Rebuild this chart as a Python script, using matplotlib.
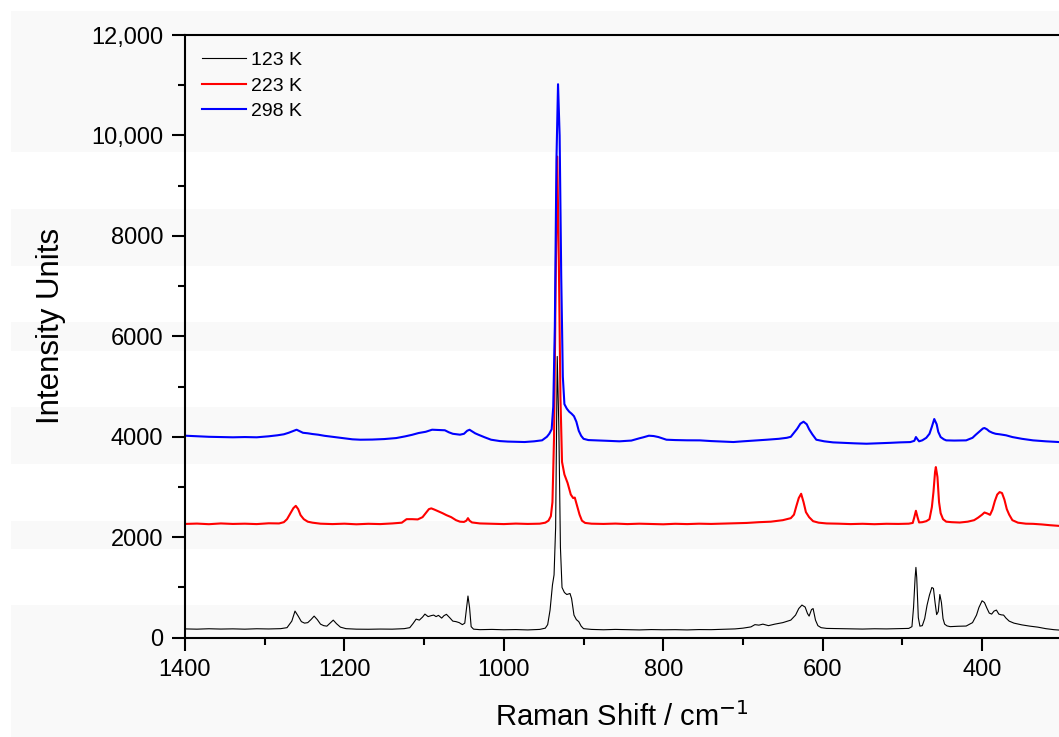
import matplotlib
matplotlib.use("Agg")
import matplotlib.pyplot as plt
from matplotlib.patches import Rectangle
from matplotlib.ticker import MultipleLocator, FuncFormatter

plt.rcParams['font.family'] = ['Liberation Sans', 'DejaVu Sans']

# Raman spectra at three temperatures (wavenumber / cm-1, intensity)
shift_123 = [1400, 1385, 1370, 1355, 1340, 1325, 1310, 1295, 1280, 1272, 1266, 1262, 1258, 1254,
             1250, 1246, 1242, 1238, 1234, 1230, 1226, 1222, 1218, 1214, 1210, 1205, 1198, 1185,
             1170, 1155, 1140, 1125, 1118, 1114, 1110, 1106, 1102, 1099, 1095, 1091, 1088, 1085,
             1082, 1078, 1075, 1072, 1068, 1064, 1060, 1056, 1052, 1049, 1046, 1045, 1043, 1041,
             1038, 1030, 1015, 1000, 985, 970, 955, 948, 945, 942, 939, 937, 935, 933, 931, 929,
             927, 924, 921, 917, 915, 912, 909, 906, 903, 900, 890, 875, 860, 845, 830, 815, 800,
             785, 770, 755, 740, 725, 710, 700, 690, 685, 680, 675, 668, 660, 650, 640, 634, 630,
             626, 622, 619, 617, 614, 612, 609, 606, 602, 595, 580, 565, 550, 535, 520, 505, 492,
             488, 486, 484, 483, 482, 480, 478, 475, 472, 469, 466, 463, 461, 459, 457, 455, 453,
             451, 449, 447, 444, 440, 430, 420, 412, 407, 404, 400, 397, 394, 391, 388, 385, 382,
             379, 376, 373, 370, 366, 360, 350, 340, 330, 320, 310, 304]
int_123 = [175, 170, 178, 172, 176, 170, 178, 174, 180, 200, 330, 530, 430, 320,
           290, 300, 360, 430, 360, 270, 240, 230, 290, 350, 280, 210, 180, 170,
           168, 172, 170, 180, 200, 280, 370, 350, 410, 470, 420, 440, 450, 420,
           445, 390, 440, 465, 400, 330, 320, 300, 260, 290, 700, 830, 600, 220,
           170, 160, 165, 158, 162, 155, 165, 190, 260, 550, 1050, 1250, 2200, 5600, 4200, 1800,
           1000, 900, 860, 880, 780, 450, 360, 320, 230, 180, 165, 158, 165, 160, 155, 162, 158,
           160, 155, 162, 160, 168, 175, 190, 215, 260, 250, 270, 240, 270, 300, 350, 450, 580,
           650, 610, 480, 430, 560, 580, 350, 240, 200, 185, 180, 175, 172, 178, 175, 180, 185,
           220, 600, 1200, 1400, 1200, 400, 230, 240, 380, 650, 850, 1000, 980, 700, 460, 520, 860,
           700, 380, 270, 235, 220, 228, 232, 300, 450, 600, 735, 700, 590, 490, 470, 530, 550,
           470, 455, 450, 390, 330, 290, 255, 230, 210, 180, 160, 153]

shift_223 = [1400, 1385, 1370, 1355, 1340, 1325, 1310, 1295, 1282, 1276, 1272, 1268, 1264, 1261,
             1258, 1255, 1251, 1246, 1240, 1230, 1215, 1200, 1185, 1170, 1155, 1140, 1128, 1122,
             1115, 1108, 1102, 1098, 1094, 1091, 1087, 1082, 1077, 1072, 1066, 1060, 1055, 1050,
             1047, 1045, 1043, 1040, 1030, 1015, 1000, 985, 970, 955, 948, 944, 941, 939, 937,
             935, 933, 931, 929, 927, 924, 920, 916, 913, 911, 908, 905, 902, 898, 890, 875, 860,
             845, 830, 815, 800, 785, 770, 755, 740, 725, 710, 695, 680, 665, 650, 640, 636, 633,
             630, 627, 624, 621, 617, 612, 605, 595, 580, 565, 550, 535, 520, 505, 492, 487, 485,
             483, 481, 479, 475, 470, 466, 463, 461, 459, 458, 456, 454, 452, 449, 445, 438, 428,
             418, 410, 405, 400, 397, 393, 390, 387, 384, 381, 378, 375, 372, 369, 366, 362, 355,
             345, 336, 325, 315, 304]
int_223 = [2265, 2272, 2260, 2275, 2265, 2270, 2262, 2278, 2275, 2300, 2360, 2470, 2580, 2625,
           2560, 2440, 2360, 2310, 2290, 2270, 2262, 2270, 2258, 2268, 2262, 2275, 2290, 2360,
           2360, 2355, 2400, 2480, 2560, 2575, 2550, 2515, 2480, 2440, 2400, 2340, 2310, 2305,
           2330, 2380, 2330, 2295, 2275, 2268, 2262, 2272, 2265, 2270, 2290, 2330, 2420, 2700, 4000,
           7000, 9580, 7500, 4800, 3500, 3250, 3080, 2850, 2780, 2790, 2620, 2450, 2330, 2285, 2270, 2265, 2272,
           2262, 2270, 2265, 2258, 2268, 2262, 2270, 2265, 2272, 2280, 2285, 2300, 2310, 2340, 2380, 2450, 2620,
           2780, 2866, 2700, 2500, 2400, 2320, 2290, 2275, 2270, 2262, 2268, 2260, 2268, 2265, 2270, 2285, 2400,
           2527, 2400, 2295, 2300, 2320, 2360, 2600, 2900, 3300, 3397, 3200, 2700, 2480, 2360, 2310, 2300, 2293,
           2310, 2340, 2390, 2450, 2493, 2470, 2446, 2550, 2720, 2850, 2899, 2880, 2750, 2560, 2450, 2340, 2290,
           2270, 2267, 2255, 2240, 2227]

shift_298 = [1400, 1385, 1370, 1355, 1340, 1325, 1310, 1295, 1284, 1276, 1270, 1265, 1260, 1256,
             1252, 1246, 1240, 1233, 1225, 1212, 1200, 1190, 1180, 1165, 1150, 1135, 1124, 1115,
             1107, 1098, 1090, 1082, 1074, 1069, 1064, 1055, 1050, 1046, 1043, 1040, 1036, 1032,
             1024, 1016, 1005, 995, 985, 974, 962, 952, 946, 943, 940, 938, 936, 934, 932, 930,
             928, 926, 924, 921, 918, 915, 912, 909, 906, 903, 900, 894, 885, 870, 855, 840, 830,
             825, 818, 812, 806, 796, 785, 770, 754, 740, 725, 712, 700, 685, 670, 655, 645, 640,
             636, 632, 628, 624, 620, 617, 613, 608, 598, 587, 575, 560, 545, 530, 515, 503, 490,
             485, 483, 481, 479, 475, 470, 466, 463, 460, 457, 455, 452, 448, 445, 435, 420, 412,
             408, 403, 399, 397, 394, 391, 387, 383, 378, 370, 362, 350, 336, 320, 304]
int_298 = [4022, 4010, 4000, 3995, 3990, 3995, 3990, 4010, 4030, 4050, 4080, 4110, 4141, 4110,
           4080, 4070, 4055, 4042, 4020, 3995, 3970, 3950, 3942, 3945, 3955, 3975, 4008, 4040,
           4075, 4100, 4141, 4135, 4130, 4090, 4060, 4042, 4060, 4120, 4140, 4110, 4070, 4042,
           3990, 3942, 3915, 3905, 3900, 3896, 3910, 3930, 4000, 4060, 4150, 4600, 6200, 9500, 11020, 10000,
           7200, 5200, 4650, 4560, 4500, 4460, 4410, 4300, 4120, 4020, 3960, 3935, 3930, 3920, 3910, 3925, 3970,
           3990, 4022, 4015, 3995, 3942, 3935, 3930, 3929, 3915, 3905, 3896, 3910, 3925, 3942, 3960, 3980, 4000,
           4080, 4160, 4260, 4301, 4250, 4150, 4050, 3942, 3910, 3889, 3880, 3870, 3862, 3870, 3880, 3889, 3895,
           3920, 3995, 3950, 3910, 3930, 3980, 4060, 4200, 4354, 4250, 4100, 3995, 3950, 3929, 3925, 3929, 3980,
           4040, 4110, 4165, 4175, 4150, 4110, 4080, 4060, 4050, 4030, 3995, 3960, 3929, 3910, 3896]

series = [
    (shift_123, int_123, "123 K", "black", 0.8),
    (shift_223, int_223, "223 K", "#ff0000", 1.5),
    (shift_298, int_298, "298 K", "#0000ff", 1.5),
]

# faint horizontal stripes behind the plot (top, bottom in pixels from the top)
stripes = [(11, 152), (209, 266), (322, 351), (407, 464), (521, 549), (605, 737)]

W, H = 1059, 737
fig = plt.figure(figsize=(W / 100, H / 100), dpi=100)
for top, bot in stripes:
    fig.add_artist(Rectangle((11 / W, 1 - bot / H), 1 - 11 / W, (bot - top) / H,
                             transform=fig.transFigure, facecolor="#f9f9f9",
                             edgecolor="none", zorder=-10))

ax = fig.add_axes([185 / W, (H - 637.7) / H, (W - 185) / W, (637.7 - 35) / H])
ax.patch.set_visible(False)
ax.set_zorder(5)

for x, y, label, color, lw in series:
    ax.plot(x, y, color=color, lw=lw, label=label)

ax.set_xlim(1400, 303.5)
ax.set_ylim(0, 12000)

ax.xaxis.set_major_locator(MultipleLocator(200))
ax.xaxis.set_minor_locator(MultipleLocator(100))
ax.yaxis.set_major_locator(MultipleLocator(2000))
ax.yaxis.set_minor_locator(MultipleLocator(1000))
ax.yaxis.set_major_formatter(FuncFormatter(
    lambda v, p: f"{int(v):,}" if v >= 10000 else f"{int(v)}"))

ax.tick_params(which="both", direction="out", width=1.5, top=False, right=False,
               labelsize=17)
ax.tick_params(which="major", length=9.5, pad=6)
ax.tick_params(which="minor", length=5)

for side in ("left", "bottom", "top"):
    ax.spines[side].set_linewidth(1.5)
ax.spines["right"].set_visible(False)

ax.set_xlabel("Raman Shift / cm$^{-1}$", fontsize=21, labelpad=15)
ax.set_ylabel("Intensity Units", fontsize=22.5)
ax.yaxis.set_label_coords(-0.136, 0.517)

ax.legend(loc="upper left", bbox_to_anchor=(0.0, 1.0), frameon=False, fontsize=14,
          handlelength=2.3, handletextpad=0.25, labelspacing=0.4, borderaxespad=0.45)

fig.savefig("out.png", dpi=100)
